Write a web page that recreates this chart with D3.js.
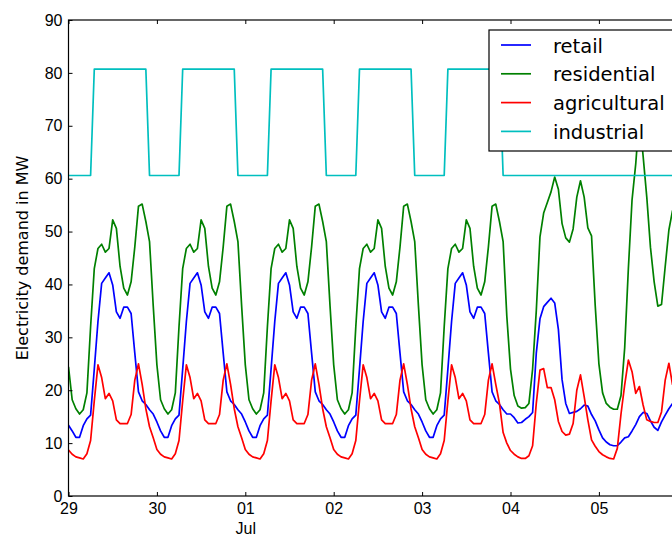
<!DOCTYPE html>
<html>
	<head>
		<meta charset="utf-8" />
		<title>Electricity demand</title>
		<style>
			body { margin: 0; background: #fff; }
			#graph { width: 672px; height: 538px; overflow: hidden; }
			#graph svg { display: block; font-family: "DejaVu Sans", sans-serif; }
			.axis text { font-size: 16px; fill: #000; }
			.axis line { stroke: #000; stroke-width: 1; }
		</style>
	</head>
	<body>
		<div id="graph"></div>
		<script src="https://cdnjs.cloudflare.com/ajax/libs/d3/7.8.5/d3.min.js"></script>
		<script>
			// hourly values, starting 29 Jun 00:00
			var startDate = new Date(2015, 5, 29);
			var yTicks = [0, 10, 20, 30, 40, 50, 60, 70, 80, 90];
			var monthLabel = "Jul";
			var seriesNames = ["retail", "residential", "agricultural", "industrial"];
			var seriesColors = ["#0000ff", "#008000", "#ff0000", "#00bfbf"];

			var retail = [
				13.4, 12.3, 11.1, 11.1, 13.3, 14.6, 15.3, 24.0, 33.0, 40.2, 41.2, 42.2, 39.9, 34.8, 33.6, 35.7, 35.7, 34.5, 27.0, 19.7, 18.0, 17.3, 16.3, 15.5,
				14.0, 12.3, 11.1, 11.1, 13.3, 14.6, 15.3, 24.0, 33.0, 40.2, 41.2, 42.2, 39.9, 34.8, 33.6, 35.7, 35.7, 34.5, 27.0, 19.7, 18.0, 17.3, 16.3, 15.5,
				14.0, 12.3, 11.1, 11.1, 13.3, 14.6, 15.3, 24.0, 33.0, 40.2, 41.2, 42.2, 39.9, 34.8, 33.6, 35.7, 35.7, 34.5, 27.0, 19.7, 18.0, 17.3, 16.3, 15.5,
				14.0, 12.3, 11.1, 11.1, 13.3, 14.6, 15.3, 24.0, 33.0, 40.2, 41.2, 42.2, 39.9, 34.8, 33.6, 35.7, 35.7, 34.5, 27.0, 19.7, 18.0, 17.3, 16.3, 15.5,
				14.0, 12.3, 11.1, 11.1, 13.3, 14.6, 15.3, 24.0, 33.0, 40.2, 41.2, 42.2, 39.9, 34.8, 33.6, 35.7, 35.7, 34.5, 27.0, 19.7, 18.0, 17.3, 16.3, 15.5,
				15.5, 14.8, 13.8, 13.9, 14.5, 15.0, 15.8, 27.0, 33.5, 35.8, 36.6, 37.4, 36.5, 31.5, 22.0, 17.5, 15.6, 15.8, 16.0, 16.5, 17.2, 17.0, 15.4, 14.2,
				12.5, 11.0, 10.2, 9.7, 9.5, 9.5, 10.2, 11.0, 11.2, 12.3, 13.5, 15.0, 15.8, 15.6, 14.2, 13.0, 12.4, 14.0, 15.3, 16.5, 17.5
			];
			var residential = [
				24.4, 18.2, 16.5, 15.5, 16.3, 19.5, 32.0, 43.0, 46.8, 47.6, 46.1, 46.8, 52.2, 50.6, 43.4, 39.3, 38.0, 40.5, 47.1, 54.8, 55.2, 51.9, 48.1, 36.0,
				24.8, 18.2, 16.5, 15.5, 16.3, 19.5, 32.0, 43.0, 46.8, 47.6, 46.1, 46.8, 52.2, 50.6, 43.4, 39.3, 38.0, 40.5, 47.1, 54.8, 55.2, 51.9, 48.1, 36.0,
				24.8, 18.2, 16.5, 15.5, 16.3, 19.5, 32.0, 43.0, 46.8, 47.6, 46.1, 46.8, 52.2, 50.6, 43.4, 39.3, 38.0, 40.5, 47.1, 54.8, 55.2, 51.9, 48.1, 36.0,
				24.8, 18.2, 16.5, 15.5, 16.3, 19.5, 32.0, 43.0, 46.8, 47.6, 46.1, 46.8, 52.2, 50.6, 43.4, 39.3, 38.0, 40.5, 47.1, 54.8, 55.2, 51.9, 48.1, 36.0,
				24.8, 18.2, 16.5, 15.5, 16.3, 19.5, 32.0, 43.0, 46.8, 47.6, 46.1, 46.8, 52.2, 50.6, 43.4, 39.3, 38.0, 40.5, 47.1, 54.8, 55.2, 51.9, 48.1, 34.0,
				24.0, 19.0, 17.0, 16.6, 16.7, 17.5, 24.0, 35.0, 49.0, 53.5, 55.5, 57.5, 60.3, 58.0, 51.5, 48.8, 48.0, 50.5, 56.5, 59.6, 56.5, 50.7, 49.2, 36.0,
				25.0, 19.5, 17.5, 16.8, 16.4, 16.4, 19.0, 28.0, 43.0, 56.0, 62.8, 72.0, 64.3, 56.5, 47.0, 40.5, 35.9, 36.2, 43.4, 50.3, 54.0
			];
			var agricultural = [
				8.7, 7.9, 7.4, 7.2, 7.0, 8.0, 10.5, 18.0, 24.8, 22.4, 18.4, 19.4, 18.0, 14.4, 13.7, 13.7, 13.7, 15.4, 21.9, 25.0, 21.1, 16.5, 13.1, 11.0,
				8.8, 7.9, 7.4, 7.2, 7.0, 8.0, 10.5, 18.0, 24.8, 22.4, 18.4, 19.4, 18.0, 14.4, 13.7, 13.7, 13.7, 15.4, 21.9, 25.0, 21.1, 16.5, 13.1, 11.0,
				8.8, 7.9, 7.4, 7.2, 7.0, 8.0, 10.5, 18.0, 24.8, 22.4, 18.4, 19.4, 18.0, 14.4, 13.7, 13.7, 13.7, 15.4, 21.9, 25.0, 21.1, 16.5, 13.1, 11.0,
				8.8, 7.9, 7.4, 7.2, 7.0, 8.0, 10.5, 18.0, 24.8, 22.4, 18.4, 19.4, 18.0, 14.4, 13.7, 13.7, 13.7, 15.4, 21.9, 25.0, 21.1, 16.5, 13.1, 11.0,
				8.8, 7.9, 7.4, 7.2, 7.0, 8.0, 10.5, 18.0, 24.8, 22.4, 18.4, 19.4, 18.0, 14.4, 13.7, 13.7, 13.7, 15.4, 21.9, 25.0, 21.1, 17.5, 12.0, 10.0,
				8.6, 7.9, 7.4, 7.1, 7.1, 7.6, 9.5, 17.5, 23.8, 24.1, 20.5, 20.5, 18.2, 14.1, 12.2, 11.5, 11.7, 13.7, 20.0, 22.9, 18.8, 14.4, 10.6, 9.4,
				8.4, 7.8, 7.4, 7.1, 7.0, 9.0, 15.5, 21.0, 25.7, 23.5, 19.4, 20.7, 17.2, 14.4, 14.1, 13.9, 13.9, 15.9, 21.9, 25.1, 21.0
			];
			var industrial = [
				60.6, 60.6, 60.6, 60.6, 60.6, 60.6, 60.6, 80.7, 80.7, 80.7, 80.7, 80.7, 80.7, 80.7, 80.7, 80.7, 80.7, 80.7, 80.7, 80.7, 80.7, 80.7, 60.6, 60.6,
				60.6, 60.6, 60.6, 60.6, 60.6, 60.6, 60.6, 80.7, 80.7, 80.7, 80.7, 80.7, 80.7, 80.7, 80.7, 80.7, 80.7, 80.7, 80.7, 80.7, 80.7, 80.7, 60.6, 60.6,
				60.6, 60.6, 60.6, 60.6, 60.6, 60.6, 60.6, 80.7, 80.7, 80.7, 80.7, 80.7, 80.7, 80.7, 80.7, 80.7, 80.7, 80.7, 80.7, 80.7, 80.7, 80.7, 60.6, 60.6,
				60.6, 60.6, 60.6, 60.6, 60.6, 60.6, 60.6, 80.7, 80.7, 80.7, 80.7, 80.7, 80.7, 80.7, 80.7, 80.7, 80.7, 80.7, 80.7, 80.7, 80.7, 80.7, 60.6, 60.6,
				60.6, 60.6, 60.6, 60.6, 60.6, 60.6, 60.6, 80.7, 80.7, 80.7, 80.7, 80.7, 80.7, 80.7, 80.7, 80.7, 80.7, 80.7, 80.7, 80.7, 80.7, 80.7, 60.6, 60.6,
				60.6, 60.6, 60.6, 60.6, 60.6, 60.6, 60.6, 60.6, 60.6, 60.6, 60.6, 60.6, 60.6, 60.6, 60.6, 60.6, 60.6, 60.6, 60.6, 60.6, 60.6, 60.6, 60.6, 60.6,
				60.6, 60.6, 60.6, 60.6, 60.6, 60.6, 60.6, 60.6, 60.6, 60.6, 60.6, 60.6, 60.6, 60.6, 60.6, 60.6, 60.6, 60.6, 60.6, 60.6, 60.6
			];

			!(function(){
				var width = 672, height = 538;
				// plot area runs past the right edge of the picture
				var margin = {top: 20, left: 68.5, bottom: 42, right: -15.3};
				var chartWidth = width - margin.left - margin.right;
				var chartHeight = height - margin.top - margin.bottom;
				var visibleWidth = width - margin.left;
				var svg = d3.select("#graph").append("svg")
					.attr("width", width)
					.attr("height", height);

				var x = d3.scaleTime()
					.domain([startDate, d3.timeDay.offset(startDate, 7)])
					.range([0, chartWidth]);
				var y = d3.scaleLinear()
					.domain([0, 90])
					.range([chartHeight, 0]);

				var g = svg.append("g")
					.attr("transform", "translate(" + margin.left + "," + margin.top + ")");

				g.append("clipPath").attr("id", "clip")
					.append("rect")
					.attr("width", chartWidth)
					.attr("height", chartHeight);

				var line = d3.line()
					.x(function(d, i){ return x(d3.timeHour.offset(startDate, i)); })
					.y(function(d){ return y(d); });

				var allSeries = [retail, residential, agricultural, industrial];
				g.append("g").attr("clip-path", "url(#clip)")
					.selectAll("path")
					.data(allSeries)
					.enter().append("path")
					.attr("d", line)
					.attr("fill", "none")
					.attr("stroke", function(d, i){ return seriesColors[i]; })
					.attr("stroke-width", 1.7)
					.attr("stroke-linejoin", "round");

				// only the days whose tick falls inside the picture
				var dayTicks = d3.timeDay.range(startDate, d3.timeDay.offset(startDate, 7))
					.filter(function(d){ return x(d) < visibleWidth; });

				// axes, ticks pointing inward
				var xAxis = g.append("g").attr("class", "axis")
					.attr("transform", "translate(0," + chartHeight + ")")
					.call(d3.axisBottom(x)
						.tickValues(dayTicks)
						.tickFormat(d3.timeFormat("%d"))
						.tickSizeInner(-4).tickSizeOuter(0).tickPadding(7));
				xAxis.select(".domain").remove();
				xAxis.selectAll(".tick")
					.filter(function(d){ return d.getDate() === 1; })
					.append("text")
					.attr("y", 27)
					.attr("dy", "0.71em")
					.attr("fill", "#000")
					.text(monthLabel);

				var topAxis = g.append("g").attr("class", "axis")
					.call(d3.axisTop(x)
						.tickValues(dayTicks)
						.tickFormat("")
						.tickSizeInner(-4).tickSizeOuter(0));
				topAxis.select(".domain").remove();

				var yAxis = g.append("g").attr("class", "axis")
					.call(d3.axisLeft(y)
						.tickValues(yTicks)
						.tickSizeInner(-4).tickSizeOuter(0).tickPadding(6));
				yAxis.select(".domain").remove();

				g.append("rect")
					.attr("width", chartWidth)
					.attr("height", chartHeight)
					.attr("fill", "none")
					.attr("stroke", "#000")
					.attr("stroke-width", 1.2);

				svg.append("text")
					.attr("transform", "translate(28," + (margin.top + chartHeight / 2) + ") rotate(-90)")
					.attr("text-anchor", "middle")
					.attr("font-size", "16px")
					.text("Electricity demand in MW");

				// legend
				var legend = svg.append("g").attr("transform", "translate(489,30)");
				legend.append("rect")
					.attr("width", 210)
					.attr("height", 121)
					.attr("fill", "#fff")
					.attr("stroke", "#000")
					.attr("stroke-width", 1.2);
				var items = legend.selectAll(".item")
					.data(seriesNames)
					.enter().append("g")
					.attr("class", "item")
					.attr("transform", function(d, i){ return "translate(0," + (15 + i * 28.8) + ")"; });
				items.append("line")
					.attr("x1", 12).attr("x2", 42)
					.attr("stroke", function(d, i){ return seriesColors[i]; })
					.attr("stroke-width", 1.7);
				items.append("text")
					.attr("x", 64)
					.attr("dy", "0.39em")
					.attr("font-size", "19.5px")
					.text(function(d){ return d; });
			}());
		</script>
	</body>
</html>
